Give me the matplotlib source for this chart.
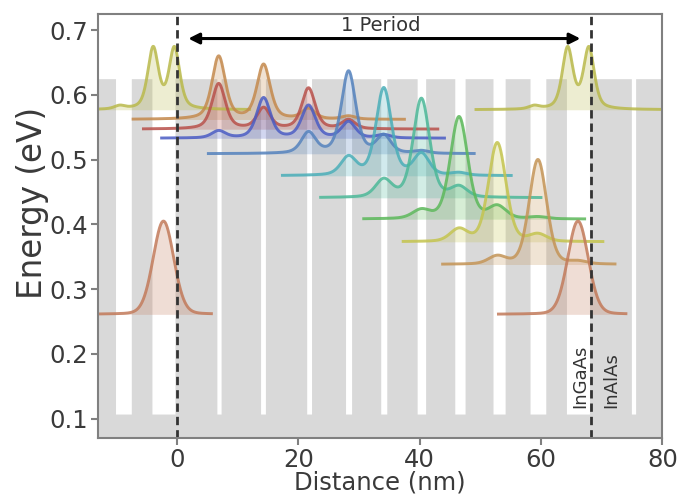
import numpy as np
import matplotlib
matplotlib.use("Agg")
import matplotlib.pyplot as plt

# ---------------- data ----------------
period = 68.3
well_left = [6.6, 13.8, 21.4, 27.8, 33.6, 39.6, 45.8, 52.1, 58.2, 64.2]
well_right = [7.3, 14.6, 22.2, 28.8, 34.6, 41.0, 47.5, 54.1, 60.8, 68.0]
barrier_top = 0.625
well_bottom = 0.107

state_energy = [0.577, 0.562, 0.547, 0.533, 0.509, 0.475, 0.441, 0.408, 0.373, 0.338, 0.261]
state_xstart = [-19.0, -7.2, -5.5, -2.5, 5.2, 17.4, 23.7, 30.8, 37.3, 43.8, -15.3]
state_xend = [12.0, 37.5, 43.0, 44.1, 49.0, 55.1, 60.0, 67.2, 70.2, 72.2, 5.7]
state_peak_x = [
    [-9.4, -3.9, -0.4],
    [6.9, 14.3, 21.7, 28.3],
    [6.9, 14.3, 21.7, 28.3],
    [6.9, 14.3, 21.7, 28.3, 34.1],
    [21.7, 28.3, 34.1, 40.3],
    [28.3, 34.1, 40.3, 46.5],
    [34.1, 40.3, 46.5],
    [40.3, 46.5, 52.8, 59.5],
    [46.5, 52.8, 59.5],
    [52.8, 59.5, 66.1],
    [-2.2],
]
state_peak_h = [
    [0.005, 0.094, 0.094],
    [0.097, 0.084, 0.016, 0.005],
    [0.070, 0.032, 0.063, 0.014],
    [0.011, 0.062, 0.050, 0.025, 0.005],
    [0.032, 0.127, 0.027, 0.004],
    [0.028, 0.135, 0.033, 0.004],
    [0.027, 0.153, 0.016],
    [0.013, 0.158, 0.019, 0.003],
    [0.019, 0.153, 0.011],
    [0.012, 0.162, 0.004],
    [0.144],
]
state_repeat = [True, False, False, False, False, False, False, False, False, False, True]

# ---------------- styles ----------------
state_fwhm = [2.1, 2.6, 2.6, 2.7, 2.8, 3.0, 3.2, 3.4, 3.4, 3.4, 4.0]
state_eta = [0.5, 0.5, 0.5, 0.45, 0.45, 0.4, 0.35, 0.3, 0.25, 0.25, 0.12]
state_color = ["#b9b94a", "#c4894c", "#b8504a", "#4a5cc4", "#5482bd", "#4aaeb8",
               "#4cb898", "#5cb85a", "#c4c44e", "#c49456", "#c27a5a"]


def profile(d, fwhm, eta):
    lor = 1.0 / (1.0 + (2.0 * d / fwhm) ** 2)
    gau = np.exp(-4.0 * np.log(2.0) * (d / fwhm) ** 2)
    return eta * lor + (1.0 - eta) * gau


fig = plt.figure(figsize=(6.8, 4.98), dpi=100)
ax = fig.add_axes([0.144, 0.1205, 0.830, 0.8515])

xlim = (-13, 80)
ylim = (0.07, 0.725)

# band profile
xg = np.linspace(-16, 83, 40000)
band = np.full_like(xg, barrier_top)
for k in (-1, 0, 1):
    for l, r in zip(well_left, well_right):
        band[(xg >= l + k * period) & (xg <= r + k * period)] = well_bottom
ax.fill_between(xg, 0, band, color="#d9d9d9", lw=0, zorder=0)

# wavefunctions
for i in range(len(state_energy)):
    offsets = [0.0, period] if state_repeat[i] else [0.0]
    for off in offsets:
        x = np.linspace(state_xstart[i], state_xend[i], 3000)
        y = np.full_like(x, state_energy[i])
        for c, h in zip(state_peak_x[i], state_peak_h[i]):
            y += h * profile(x - c, state_fwhm[i], state_eta[i])
        ax.fill_between(x + off, state_energy[i], y, color=state_color[i],
                        alpha=0.25, lw=0, zorder=2)
        ax.plot(x + off, y, color=state_color[i], lw=2.1, alpha=0.85, zorder=3)

# period markers
for xv in (0.0, period):
    ax.axvline(xv, color="#333333", lw=2.0, ls=(0, (3, 1.8)), zorder=5)

ax.annotate("", xy=(1.9, 0.687), xytext=(66.5, 0.687),
            arrowprops=dict(arrowstyle="<|-|>", color="black", lw=2.2,
                            mutation_scale=16, shrinkA=0, shrinkB=0), zorder=6)
ax.text(33.6, 0.693, "1 Period", ha="center", va="bottom", fontsize=14,
        color="#333333", zorder=6)

ax.text(66.4, 0.117, "InGaAs", rotation=90, ha="center", va="bottom",
        fontsize=13, color="#333333", zorder=6)
ax.text(71.6, 0.117, "InAlAs", rotation=90, ha="center", va="bottom",
        fontsize=13, color="#333333", zorder=6)

ax.set_xlim(*xlim)
ax.set_ylim(*ylim)
ax.set_xticks([0, 20, 40, 60, 80])
ax.set_yticks([0.1, 0.2, 0.3, 0.4, 0.5, 0.6, 0.7])
ax.set_yticklabels(["0.1", "0.2", "0.3", "0.4", "0.5", "0.6", "0.7"])

for s in ax.spines.values():
    s.set_color("#808080")
    s.set_linewidth(1.5)
    s.set_zorder(7)
ax.tick_params(axis="both", colors="#808080", length=5, width=1.5,
               labelsize=17.5, labelcolor="#3a3a3a", pad=2)

ax.set_xlabel("Distance (nm)", fontsize=17.5, color="#3a3a3a", labelpad=-1)
ax.set_ylabel("Energy (eV)", fontsize=23.5, color="#3a3a3a")
ax.yaxis.set_label_coords(-0.087, 0.555)

fig.savefig("out.png", dpi=100)
